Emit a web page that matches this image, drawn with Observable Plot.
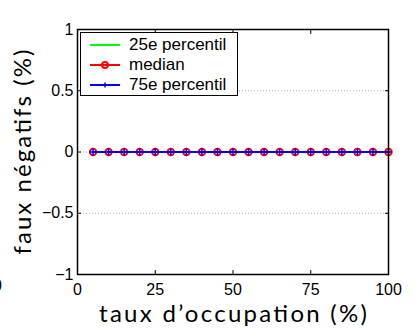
<!DOCTYPE html>
<html><head><meta charset="utf-8">
<script src="https://cdn.jsdelivr.net/npm/d3@7"></script>
<script src="https://cdn.jsdelivr.net/npm/@observablehq/plot@0.6"></script>
<style>
body{margin:0;background:#fff;}
#wrap{position:relative;width:418px;height:332px;overflow:hidden;background:#fff;}
#legend{position:absolute;left:80px;top:32px;width:156px;height:62px;border:1px solid #000;background:#fff;font-family:"Liberation Sans",Arial,sans-serif;font-size:17px;}
.row{position:absolute;left:0;height:20px;display:flex;align-items:center;}
.row svg{margin-left:9px;}
.row span{margin-left:9px;}
#stray{position:absolute;left:-7px;top:277px;font-family:"Liberation Sans",Arial,sans-serif;font-size:16px;}
</style></head>
<body><div id="wrap"></div>
<script>
const occupation = [5,10,15,20,25,30,35,40,45,50,55,60,65,70,75,80,85,90,95,100];
const p25    = [0,0,0,0,0,0,0,0,0,0,0,0,0,0,0,0,0,0,0,0];
const median = [0,0,0,0,0,0,0,0,0,0,0,0,0,0,0,0,0,0,0,0];
const p75    = [0,0,0,0,0,0,0,0,0,0,0,0,0,0,0,0,0,0,0,0];
const xTicks = [0,25,50,75,100];
const yTicks = [-1,-0.5,0,0.5,1];
const yGridTicks = [-0.5,0,0.5];
const seriesNames = ["25e percentil","median","75e percentil"];
const seriesColors = ["#00ff00","#ff0000","#0000ff"];
const xLabel = "taux d\u2019occupation (%)";
const yLabel = "faux négatifs (%)";

const rows = occupation.map((x,i)=>({x, p25:p25[i], med:median[i], p75:p75[i]}));
const noText = () => "";
const numFmt = d => (d < 0 ? "\u2212" : "") + Math.abs(d);
const tickFont = "Liberation Sans, Arial, sans-serif";

const chart = Plot.plot({
  width: 418, height: 332,
  marginLeft: 77, marginRight: 30, marginTop: 29, marginBottom: 58,
  x: {domain:[0,100]},
  y: {domain:[-1,1]},
  style: {fontFamily: tickFont, fontSize: "16px", color:"#000", background:"#fff"},
  marks: [
    Plot.gridY(yGridTicks, {stroke:"#aaa", strokeOpacity:1, strokeDasharray:"1,2"}),
    Plot.line(rows, {x:"x", y:"p25", stroke: seriesColors[0], strokeWidth: 2}),
    Plot.line(rows, {x:"x", y:"med", stroke: seriesColors[1], strokeWidth: 2}),
    Plot.dot(rows, {x:"x", y:"med", stroke: seriesColors[1], r: 3.2, strokeWidth: 2, fill: "none"}),
    Plot.line(rows, {x:"x", y:"p75", stroke: seriesColors[2], strokeWidth: 2}),
    Plot.dot(rows, {x:"x", y:"p75", stroke: seriesColors[2], symbol: "plus", r: 2.5, strokeWidth: 1.5}),
    Plot.frame({stroke:"#000", strokeWidth:1.5}),
    // inward ticks
    Plot.axisX(xTicks, {anchor:"bottom", tickSize:4, dy:-4, tickFormat: noText, label:null}),
    Plot.axisX(xTicks, {anchor:"top", tickSize:4, dy:4, tickFormat: noText, label:null}),
    Plot.axisY(yTicks, {anchor:"left", tickSize:4, dx:4, tickFormat: noText, label:null}),
    Plot.axisY(yTicks, {anchor:"right", tickSize:4, dx:-4, tickFormat: noText, label:null}),
    // labels
    Plot.axisX(xTicks, {anchor:"bottom", tickSize:0, tickPadding:9, label:null, fontSize:16, tickFormat: numFmt}),
    Plot.axisY(yTicks, {anchor:"left", tickSize:0, tickPadding:4, label:null, fontSize:16, tickFormat: numFmt}),
    Plot.text([xLabel], {frameAnchor:"bottom", dy:40, lineAnchor:"middle", textAnchor:"middle", fontSize:24, fontFamily:"Lato, sans-serif", fill:"#000"}),
    Plot.text([yLabel], {frameAnchor:"left", dx:-54, rotate:-90, lineAnchor:"middle", textAnchor:"middle", fontSize:24, fontFamily:"Lato, sans-serif", fill:"#000"})
  ]
});
const wrap = document.getElementById("wrap");
wrap.appendChild(chart);
// stretch axis titles to the reference's spacing
chart.querySelectorAll("text").forEach(t => {
  if (t.textContent === xLabel) { t.setAttribute("textLength", 268); t.setAttribute("lengthAdjust", "spacing"); }
  if (t.textContent === yLabel) { t.setAttribute("textLength", 205); t.setAttribute("lengthAdjust", "spacing"); }
});

// legend
const leg = document.createElement("div");
leg.id = "legend";
seriesNames.forEach((name,i)=>{
  const r = document.createElement("div");
  r.className = "row";
  r.style.top = (2 + i*20) + "px";
  let marker = "";
  if (i===1) marker = `<circle cx="15" cy="7" r="3" fill="none" stroke="${seriesColors[i]}" stroke-width="2"/>`;
  if (i===2) marker = `<path d="M12.5,7H17.5M15,4.5V9.5" stroke="${seriesColors[i]}" stroke-width="1.5"/>`;
  r.innerHTML = `<svg width="30" height="14"><line x1="0" x2="30" y1="7" y2="7" stroke="${seriesColors[i]}" stroke-width="2"/>${marker}</svg><span>${name}</span>`;
  leg.appendChild(r);
});
wrap.appendChild(leg);
const stray = document.createElement("div");
stray.id = "stray"; stray.textContent = "0";
wrap.appendChild(stray);
</script></body></html>
